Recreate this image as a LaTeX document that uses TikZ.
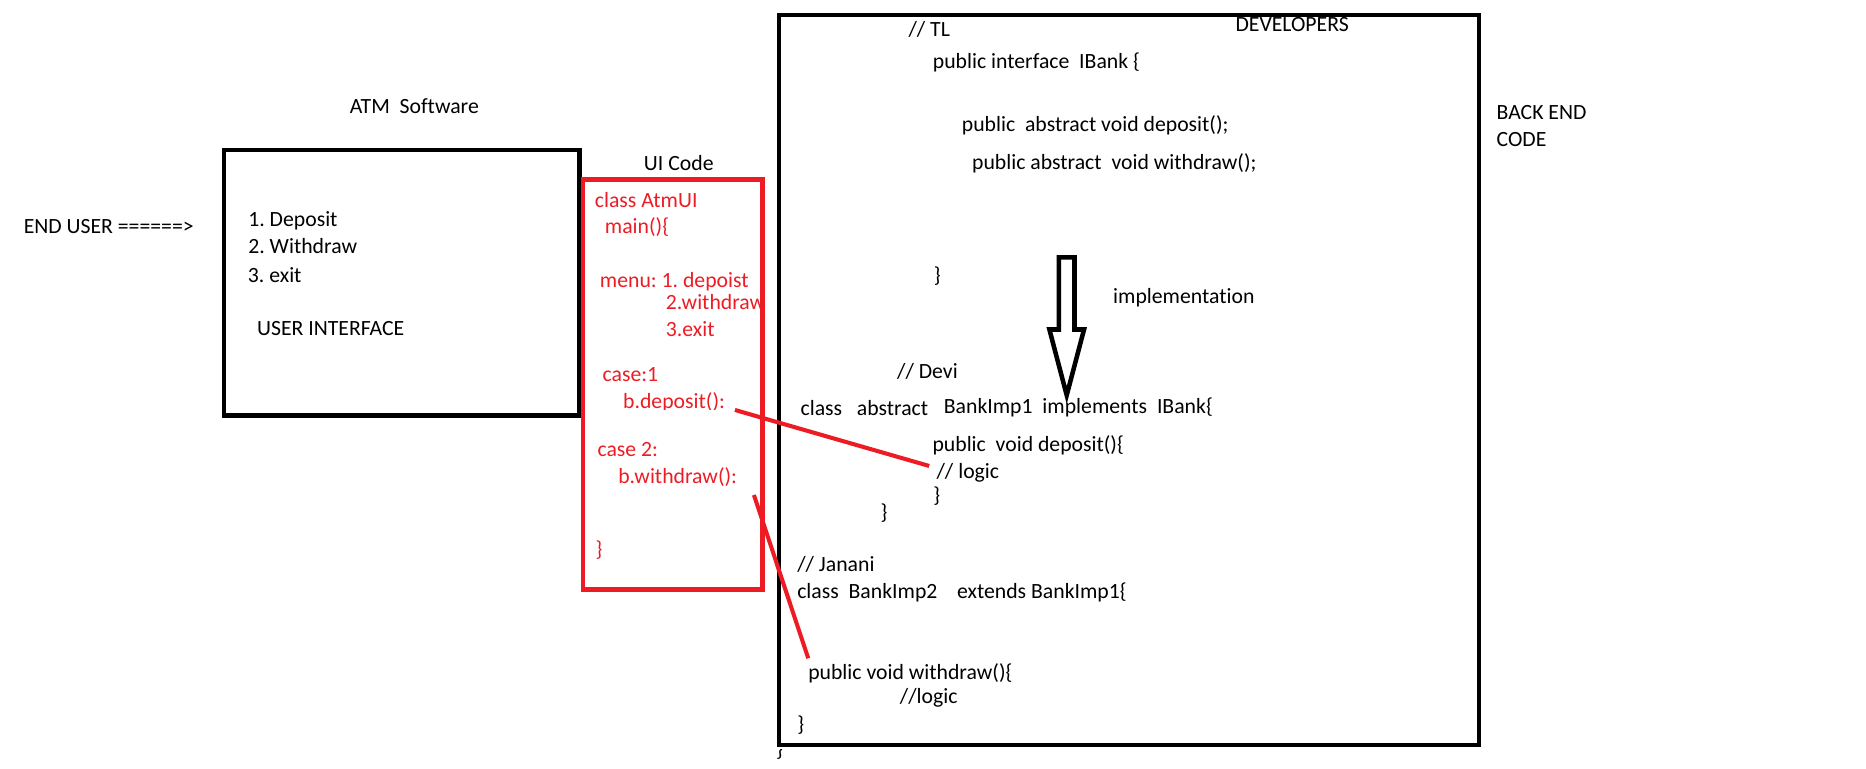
\documentclass[tikz,border=0pt]{standalone}
\usepackage{fontspec}
\setmainfont{Carlito}[Ligatures=NoCommon]
\definecolor{paintred}{RGB}{237,28,36}
\tikzset{
  txt/.style={anchor=base west, inner sep=0pt, outer sep=0pt, font=\fontsize{18.2}{22}\selectfont\frenchspacing, text=black},
  rtxt/.style={txt, text=paintred},
  blackbox/.style={draw=black, line width=3.6pt},
  redbox/.style={draw=paintred, line width=3.9pt},
  redline/.style={draw=paintred, line width=3.4pt},
  hollowarrow/.style={draw=black, line width=3.8pt, line join=miter},
}
\begin{document}
\begin{tikzpicture}[x=1pt,y=-1pt]
\useasboundingbox (0,0) rectangle (1563,644);
% left side
\node[txt] (atm) at (293,94.9) {ATM~ Software};
\node[txt] (enduser) at (19.9,196) {END USER ======>};
\draw[blackbox] (187.8,125.5) rectangle (485.5,348);
\node[txt] (dep) at (208,189.8) {1. Deposit};
\node[txt] (wd) at (208,212.7) {2. Withdraw};
\node[txt] (ex) at (207.7,236.7) {3. exit};
\node[txt] (ui) at (215.4,281.4) {USER INTERFACE};
% UI code
\node[txt] (uicode) at (539.4,143) {UI Code};
\node[rtxt] (cls) at (498.3,173.6) {class AtmUI};
\node[rtxt] (mainf) at (506.7,196) {main()\{};
\node[rtxt] (menu) at (502.5,240.6) {menu: 1. depoist};
\node[rtxt] (mwd) at (557.8,259) {2.withdraw};
\node[rtxt] (mex) at (557.8,282) {3.exit};
\node[rtxt] (caseone) at (504.8,319.7) {case:1};
\begin{scope}
\clip (480,300) rectangle (645,342.8);
\node[rtxt] (bdep) at (522,342) {b.deposit():};
\end{scope}
\node[rtxt] (casetwo) at (500.5,382.5) {case 2:};
\node[rtxt] (bwd) at (517.9,404.8) {b.withdraw():};
\node[rtxt] (rclose) at (499,466) {\}};
\draw[redbox] (488.2,150.4) rectangle (638.6,493.6);
% back end
\begin{scope}
\clip (600,628) rectangle (700,644);
\node[txt] (stray) at (650,633.6) {\}};
\end{scope}
\draw[blackbox] (652.3,12.4) rectangle (1239,624.2);
\node[txt] (tl) at (761,30.7) {// TL};
\node[txt] (devs) at (1034.9,26.5) {DEVELOPERS};
\node[txt] (iface) at (781.4,57.2) {public interface~ IBank \{};
\node[txt] (absdep) at (805.7,110.3) {public~ abstract void deposit();};
\node[txt] (abswd) at (814.3,141.8) {public abstract~ void withdraw();};
\node[txt] (ifclose) at (782.3,237) {\}};
\node[txt] (backend) at (1253.6,100) {BACK END};
\node[txt] (code) at (1253.6,122.8) {CODE};
\node[txt] (impl) at (932.4,254) {implementation};
\draw[hollowarrow] (887,276) -- (887,215.5) -- (900,215.5) -- (900,276) -- (908,276) -- (893.5,331) -- (879,276) -- cycle;
\node[txt] (devi) at (751.5,316.9) {// Devi};
\node[txt] (clsabs) at (670.6,348.4) {class~~ abstract};
\node[txt] (bimp) at (790.6,346.7) {BankImp1~ implements~ IBank\{};
\node[txt] (pdep) at (781.1,378.3) {public~ void deposit()\{};
\node[txt] (logic) at (784.5,401.2) {// logic};
\node[txt] (depclose) at (781.7,420.5) {\}};
\node[txt] (bimpclose) at (737.6,435) {\}};
\node[txt] (janani) at (667.8,478.8) {// Janani};
\node[txt] (clstwo) at (667.8,501.1) {class~ BankImp2~~~ extends BankImp1\{};
\node[txt] (pwd) at (677,569) {public void withdraw()\{};
\node[txt] (logictwo) at (753.8,589) {//logic};
\node[txt] (twoclose) at (667.8,612.8) {\}};
% connectors
\coordinate (bdepend) at (615.6,343.4);
\coordinate (logicend) at (778.3,390.3);
\coordinate (bwdend) at (631.5,414.6);
\coordinate (pwdend) at (677,551.4);
\draw[redline] (bdepend) -- (logicend);
\draw[redline] (bwdend) -- (pwdend);
\end{tikzpicture}
\end{document}
